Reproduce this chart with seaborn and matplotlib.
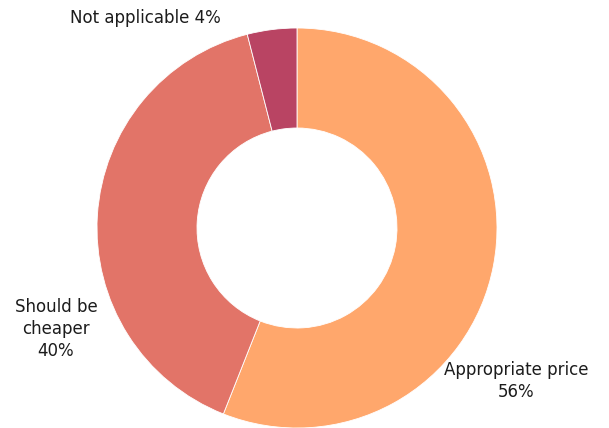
import matplotlib
matplotlib.use("Agg")
import matplotlib.pyplot as plt
import seaborn as sns

categories = ["Appropriate price", "Should be cheaper", "Not applicable"]
shares = [56, 40, 4]
label_texts = ["Appropriate price\n56%", "Should be\ncheaper\n40%", "Not applicable 4%"]
colors = ["#FFA76C", "#E27468", "#B94463"]

sns.set_theme(style="white")
plt.rcParams["font.family"] = ["DejaVu Sans"]

fig = plt.figure(figsize=(6.09, 4.28), dpi=100)
ax = fig.add_axes([0, 0, 1, 1])

ax.pie(shares, colors=colors, startangle=90, counterclock=False,
       center=(297, 200), radius=200,
       wedgeprops=dict(width=100, edgecolor="white", linewidth=0.6))

# pie() resets the limits around its centre, so fix the canvas afterwards
ax.set_xlim(0, 609)
ax.set_ylim(0, 428)
ax.set_aspect("equal")
ax.axis("off")

label_pos = [(516, 47), (56, 99), (145, 410)]
for txt, (x, y) in zip(label_texts, label_pos):
    ax.text(x, y, txt, ha="center", va="center", fontsize=12,
            color="#1c1c1c", linespacing=1.3)

fig.savefig("out.png", dpi=100)
